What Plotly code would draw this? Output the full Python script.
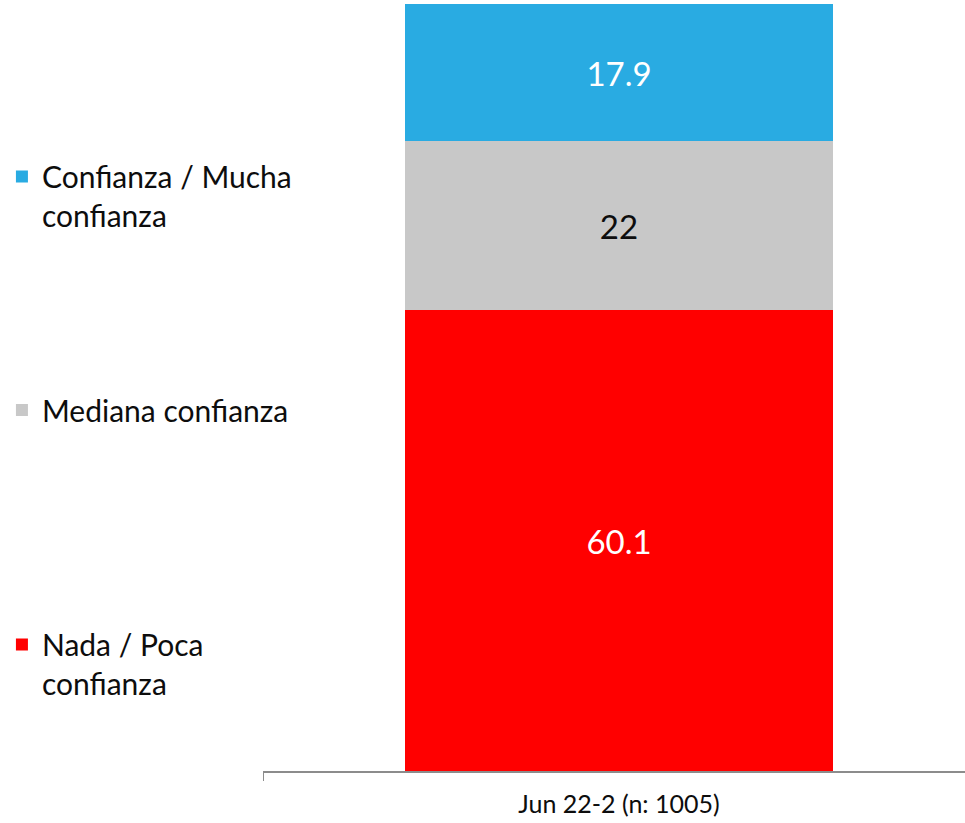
import plotly.graph_objects as go

categories = ["Jun 22-2 (n: 1005)"]
series_names = ["Nada / Poca<br>confianza", "Mediana confianza", "Confianza / Mucha<br>confianza"]
nada = [60.1]
mediana = [22]
confianza = [17.9]
values = [nada, mediana, confianza]
colors = ["#FF0000", "#C8C8C8", "#29ABE2"]
text_colors = ["#FFFFFF", "#0D0D0D", "#FFFFFF"]
legend_ids = ["legend3", "legend2", "legend"]

FONT = "Lato"

fig = go.Figure()
for name, vals, col, tcol, lg in zip(series_names, values, colors, text_colors, legend_ids):
    fig.add_trace(go.Bar(
        x=categories, y=vals, name=name, marker_color=col, marker_line_width=0,
        text=[f"{v:g}" for v in vals], textposition="inside", insidetextanchor="middle",
        textfont=dict(color=tcol, size=33, family=FONT), width=0.601, legend=lg,
    ))

def leg(y):
    return dict(xref="container", yref="container", x=0.002, y=y, xanchor="left", yanchor="middle",
                valign="top", font=dict(size=30, family=FONT, color="#0D0D0D"),
                bgcolor="rgba(0,0,0,0)", itemwidth=30)

fig.update_layout(
    barmode="stack",
    width=965, height=823,
    margin=dict(l=263, r=0, t=4, b=52, autoexpand=False),
    paper_bgcolor="white", plot_bgcolor="white",
    showlegend=True,
    legend=leg(1 - 196 / 823),
    legend2=leg(1 - 410 / 823),
    legend3=leg(1 - 664 / 823),
    uniformtext=dict(mode=False),
    xaxis=dict(range=[-0.5, 0.486], showline=True, linecolor="#8C8C8C", linewidth=1.5,
               ticks="outside", tickson="boundaries", ticklen=8, tickcolor="#8C8C8C",
               ticklabelstandoff=10,
               tickfont=dict(size=25, family=FONT, color="#0D0D0D"), showgrid=False),
    yaxis=dict(range=[0, 100], visible=False, showgrid=False),
)

fig.write_html("out.html", config={"displayModeBar": False},
               post_script="document.body.style.margin='0';")
